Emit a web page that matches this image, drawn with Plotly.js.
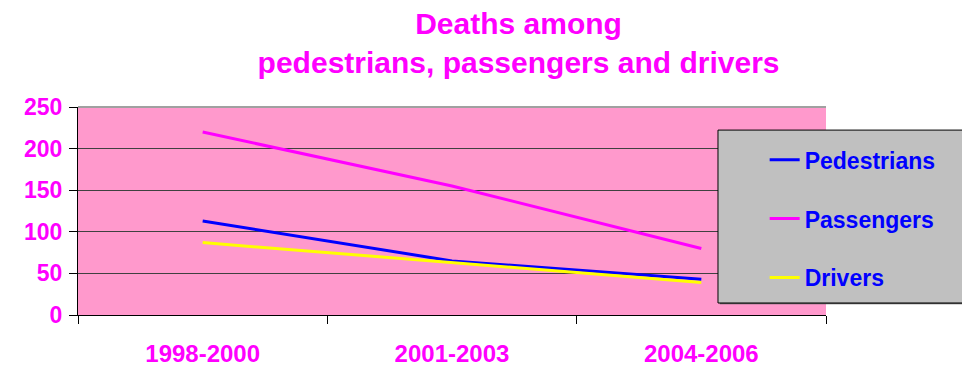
<!DOCTYPE html>
<html>
<head>
<meta charset="utf-8">
<script src="https://cdn.plot.ly/plotly-3.0.1.min.js"></script>
<style>
  html, body { margin: 0; padding: 0; background: #ffffff; }
  #chart { width: 962px; height: 367px; }
</style>
</head>
<body>
<div id="chart"></div>
<script>
// Periods on the horizontal axis
const periods = ['1998-2000', '2001-2003', '2004-2006'];

// Deaths per period for each road-user group
const pedestrians = [113, 65, 43];
const passengers = [220, 155, 80];
const drivers = [87, 63, 39];

const yTicks = [0, 50, 100, 150, 200, 250];

const FONT = 'Liberation Sans, Arial, sans-serif';
const MAGENTA = '#FF00FF';

function series(name, values, color, group) {
  return {
    type: 'scatter',
    mode: 'lines',
    name: name,
    x: periods,
    y: values,
    legendgroup: group,
    line: { color: color, width: 3 },
    hoverinfo: 'x+y+name'
  };
}

const data = [
  series('Pedestrians', pedestrians, '#0000FF', 'a'),
  series('Passengers', passengers, '#FF00FF', 'b'),
  series('Drivers', drivers, '#FFFF00', 'c')
];

const layout = {
  width: 962,
  height: 367,
  margin: { l: 78, r: 136, t: 107, b: 52, pad: 0 },
  paper_bgcolor: '#FFFFFF',
  plot_bgcolor: '#FF99CC',
  showlegend: true,
  title: {
    text: 'Deaths among<br>pedestrians, passengers and drivers',
    font: { family: FONT, size: 30, color: MAGENTA, weight: 'bold' },
    xref: 'paper', x: 0.589, xanchor: 'center',
    yref: 'container', y: 0.907, yanchor: 'top'
  },
  xaxis: {
    type: 'category',
    range: [-0.5, 2.5],
    showgrid: false,
    zeroline: false,
    showline: true,
    linecolor: '#000000',
    linewidth: 1,
    ticks: 'outside',
    tickson: 'boundaries',
    ticklen: 8,
    tickcolor: '#000000',
    tickfont: { family: FONT, size: 24, color: MAGENTA, weight: 'bold' },
    ticklabelstandoff: 17,
    fixedrange: true
  },
  yaxis: {
    range: [0, 250],
    tickvals: yTicks,
    ticktext: yTicks.map(String),
    showgrid: true,
    gridcolor: '#404040',
    gridwidth: 1,
    zeroline: false,
    showline: true,
    linecolor: '#000000',
    linewidth: 1,
    ticks: 'outside',
    ticklen: 8,
    tickcolor: '#000000',
    tickfont: { family: FONT, size: 23, color: MAGENTA, weight: 'bold' },
    ticklabelstandoff: 2,
    fixedrange: true
  },
  legend: {
    x: 0.918, xanchor: 'left',
    y: 0.85, yanchor: 'top',
    bgcolor: 'rgba(0,0,0,0)',
    borderwidth: 0,
    tracegroupgap: 26,
    traceorder: 'grouped',
    font: { family: FONT, size: 23, color: '#0000FF', weight: 'bold' }
  },
  shapes: [
    // light line along the top of the plot area
    { type: 'line', xref: 'paper', yref: 'paper', x0: 0, x1: 1, y0: 1, y1: 1,
      line: { color: '#A0A0A0', width: 2 }, layer: 'above' },
    // legend box shadow
    { type: 'rect', xref: 'paper', yref: 'paper', x0: 0.858, x1: 1.2, y0: 0.052, y1: 0.886,
      fillcolor: '#606060', line: { width: 0 }, layer: 'above' },
    // legend box
    { type: 'rect', xref: 'paper', yref: 'paper', x0: 0.8556, x1: 1.2, y0: 0.0577, y1: 0.889,
      fillcolor: '#C0C0C0', line: { color: '#000000', width: 1 }, layer: 'above' }
  ]
};

Plotly.newPlot('chart', data, layout, { displayModeBar: false, staticPlot: true });
</script>
</body>
</html>
